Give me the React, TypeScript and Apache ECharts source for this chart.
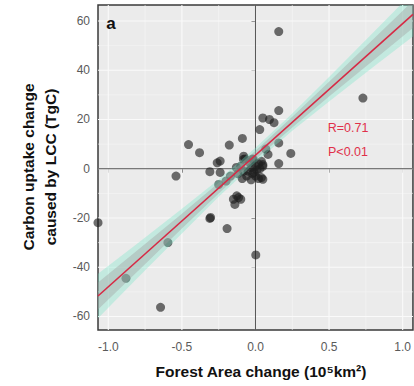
import React, { useEffect, useRef } from "react";
import * as echarts from "echarts";

// ---- data ----
const xMin = -1.07;
const xMax = 1.07;
const yMin = -65.5;
const yMax = 66.5;

const xTicks = [-1, -0.5, 0, 0.5, 1];
const xMinor = [-0.75, -0.25, 0.25, 0.75];
const yTicks = [-60, -40, -20, 0, 20, 40, 60];
const yMinor = [-50, -30, -10, 10, 30, 50];

const points: [number, number][] = [
  [0.158, 55.7], [0.73, 28.7], [-1.07, -21.9], [-0.88, -44.5], [-0.645, -56.3],
  [-0.595, -30], [-0.54, -3], [-0.455, 9.8], [-0.38, 6.5], [-0.31, -20.2],
  [-0.31, -1.2], [-0.193, -24.3], [-0.178, 9.6], [-0.089, 12.3], [0.002, -35],
  [0.24, 6.2], [0.158, 2.1], [0.158, 23.6], [0.158, 10.5], [0.05, 20.6],
  [0.095, 20], [0.126, 18.7], [0.029, 15.9], [-0.26, 2.4], [-0.24, -1.5],
  [-0.15, -12.4], [-0.14, -14.5], [-0.115, -11.7], [-0.25, -6.4], [0.05, -4.3],
  [-0.082, 3.8], [0.085, 5.8], [-0.24, 3.1], [-0.08, 5.1], [-0.015, 3.8],
  [0.05, 1.7], [0.04, -3.6], [-0.127, -11], [-0.1, -12.4], [-0.305, -19.8],
  [-0.05, -1], [-0.03, 0.5], [-0.02, -2], [0, 1], [0.01, -0.5],
  [0.02, 2], [-0.04, 2.5], [-0.06, -3], [0.03, 0], [-0.01, -1.5],
  [0, -3], [-0.08, -1], [-0.1, 1], [-0.12, -2], [0.04, 3],
  [-0.07, 4], [0.02, -4], [-0.03, -4.5], [0.05, 1], [-0.09, -4],
  [-0.13, 0.5], [-0.02, 4], [-0.2, -5], [-0.17, -3], [0.07, 8],
];

const fitLine: [number, number][] = [[-1.07, -51.7], [1.07, 62.7]];

const bandX = [-1.07, -0.8, -0.5, -0.25, 0, 0.25, 0.5, 0.8, 1.07];
const outerUpper = [-42.7, -30.3, -16.3, -4.4, 8.5, 22.4, 37.3, 55.3, 71.7];
const outerLower = [-60.7, -44.3, -26.3, -11.4, 2.5, 15.4, 27.3, 41.3, 53.7];
const innerUpper = [-46.2, -33, -18.3, -5.7, 7.3, 21.1, 35.3, 52.6, 68.2];
const innerLower = [-57.2, -41.6, -24.3, -10.1, 3.7, 16.7, 29.3, 44, 57.2];

const annoR = "R=0.71";
const annoP = "P<0.01";

const FONT = "Liberation Sans";

function bandSeries(upper: number[], lower: number[], fill: string, z: number) {
  return {
    type: "custom",
    z,
    clip: true,
    silent: true,
    data: [[0, 0]],
    renderItem: (_p: any, api: any) => {
      const pts: number[][] = [];
      bandX.forEach((x, i) => pts.push(api.coord([x, upper[i]])));
      for (let i = bandX.length - 1; i >= 0; i--) pts.push(api.coord([bandX[i], lower[i]]));
      return { type: "polygon", shape: { points: pts }, style: { fill, stroke: "none" } };
    },
  };
}

function vLines(values: number[], color: string, width: number, z: number) {
  return {
    type: "custom",
    z,
    silent: true,
    clip: true,
    data: values.map((v) => [v, 0]),
    renderItem: (_p: any, api: any) => {
      const a = api.coord([api.value(0), yMin]);
      const b = api.coord([api.value(0), yMax]);
      return { type: "line", shape: { x1: a[0], y1: a[1], x2: b[0], y2: b[1] }, style: { stroke: color, lineWidth: width } };
    },
  };
}

function hLines(values: number[], color: string, width: number, z: number) {
  return {
    type: "custom",
    z,
    silent: true,
    clip: true,
    data: values.map((v) => [0, v]),
    renderItem: (_p: any, api: any) => {
      const a = api.coord([xMin, api.value(1)]);
      const b = api.coord([xMax, api.value(1)]);
      return { type: "line", shape: { x1: a[0], y1: a[1], x2: b[0], y2: b[1] }, style: { stroke: color, lineWidth: width } };
    },
  };
}

function txt(text: string, x: number, y: number, size: number, weight: string, fill: string, extra: any = {}) {
  const { style: extraStyle, ...rest } = extra;
  return {
    type: "text", x, y, z: 100, ...rest,
    style: {
      text, fontFamily: FONT, fontSize: size, fontWeight: weight, fill,
      align: "center", verticalAlign: "middle", ...(extraStyle || {}),
    },
  };
}

export default function App() {
  const ref = useRef<HTMLDivElement>(null);
  useEffect(() => {
    if (!ref.current) return;
    const chart = echarts.init(ref.current, undefined, { renderer: "svg" });
    chart.setOption({
      animation: false,
      textStyle: { fontFamily: FONT },
      grid: {
        left: 98, top: 5, width: 321, height: 325,
        show: true, backgroundColor: "#EBEBEB", borderColor: "#3a3a3a", borderWidth: 1.5,
        containLabel: false,
      },
      xAxis: {
        type: "value", min: xMin, max: xMax,
        axisLine: { show: false },
        splitLine: { show: false },
        axisTick: { show: true, customValues: xTicks, length: 4, lineStyle: { color: "#333" } },
        axisLabel: {
          customValues: xTicks, color: "#5a5a5a", fontSize: 12, margin: 11, fontFamily: FONT,
          formatter: (v: number) => v.toFixed(1),
        },
      },
      yAxis: {
        type: "value", min: yMin, max: yMax,
        axisLine: { show: false },
        splitLine: { show: false },
        axisTick: { show: true, customValues: yTicks, length: 4, lineStyle: { color: "#333" } },
        axisLabel: { customValues: yTicks, color: "#5a5a5a", fontSize: 12, margin: 8, fontFamily: FONT },
      },
      series: [
        vLines(xMinor, "#F6F6F6", 0.6, 1),
        hLines(yMinor, "#F6F6F6", 0.6, 1),
        vLines(xTicks, "#FAFAFA", 1.1, 1),
        hLines(yTicks, "#FAFAFA", 1.1, 1),
        vLines([0], "#555", 1, 2),
        hLines([0], "#555", 1, 2),
        {
          type: "scatter", z: 3, data: points, symbolSize: 9,
          itemStyle: { color: "rgba(30,30,30,0.8)" },
        },
        bandSeries(outerUpper, outerLower, "rgba(120,230,200,0.35)", 4),
        bandSeries(innerUpper, innerLower, "rgba(160,160,160,0.4)", 5),
        {
          type: "line", z: 6, data: fitLine, symbol: "none", clip: true,
          lineStyle: { color: "#D62A45", width: 1.6 },
        },
      ],
      graphic: [
        txt("a", 111, 23, 17, "bold", "#111"),
        txt(annoR, 348, 128, 12.5, "normal", "#E0304A"),
        txt(annoP, 348, 152, 12.5, "normal", "#E0304A"),
        txt("Carbon uptake change\ncaused by LCC (TgC)", 39, 167, 15.5, "bold", "#111", {
          rotation: Math.PI / 2,
          style: { lineHeight: 22 },
        }),
        txt("Forest Area change (10⁵km²)", 261, 371, 15.5, "bold", "#111"),
      ],
    });
    return () => chart.dispose();
  }, []);
  return <div ref={ref} style={{ position: "absolute", left: 0, top: 0, width: 414, height: 386 }} />;
}
